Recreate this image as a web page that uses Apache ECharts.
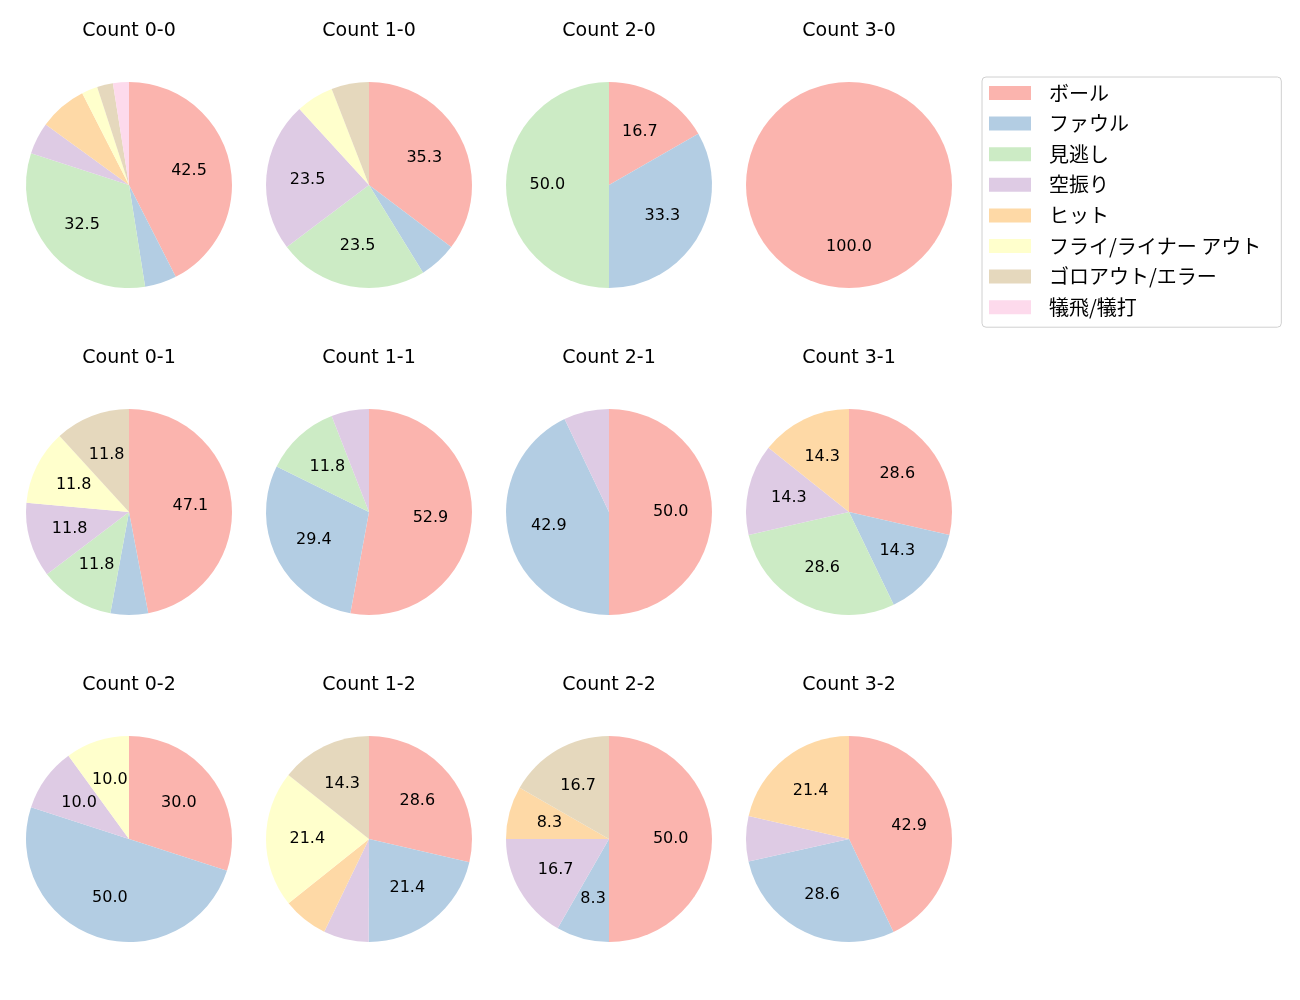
<!DOCTYPE html>
<html>
<head>
<meta charset="utf-8">
<script src="https://cdn.jsdelivr.net/npm/echarts@6/dist/echarts.min.js"></script>
<style>
html,body{margin:0;padding:0;background:#fff;}
#chart{width:1300px;height:1000px;}
</style>
</head>
<body>
<div id="chart"></div>
<script>
var categories = ['ボール', 'ファウル', '見逃し', '空振り', 'ヒット', 'フライ/ライナー アウト', 'ゴロアウト/エラー', '犠飛/犠打'];
var colors = ['#fbb4ae', '#b3cde3', '#ccebc5', '#decbe4', '#fed9a6', '#ffffcc', '#e5d8bd', '#fddaec'];

// percentages per count, in category order
var count00 = [42.5, 5.0, 32.5, 5.0, 7.5, 2.5, 2.5, 2.5];
var count10 = [35.3, 5.9, 23.5, 23.5, 0, 5.9, 5.9, 0];
var count20 = [16.7, 33.3, 50.0, 0, 0, 0, 0, 0];
var count30 = [100.0, 0, 0, 0, 0, 0, 0, 0];
var count01 = [47.1, 5.9, 11.8, 11.8, 0, 11.8, 11.8, 0];
var count11 = [52.9, 29.4, 11.8, 5.9, 0, 0, 0, 0];
var count21 = [50.0, 42.9, 0, 7.1, 0, 0, 0, 0];
var count31 = [28.6, 14.3, 28.6, 14.3, 14.3, 0, 0, 0];
var count02 = [30.0, 50.0, 0, 10.0, 0, 10.0, 0, 0];
var count12 = [28.6, 21.4, 0, 7.1, 7.1, 21.4, 14.3, 0];
var count22 = [50.0, 8.3, 0, 16.7, 8.3, 0, 16.7, 0];
var count32 = [42.9, 28.6, 0, 7.1, 21.4, 0, 0, 0];

var panels = [
  ['Count 0-0', count00], ['Count 1-0', count10], ['Count 2-0', count20], ['Count 3-0', count30],
  ['Count 0-1', count01], ['Count 1-1', count11], ['Count 2-1', count21], ['Count 3-1', count31],
  ['Count 0-2', count02], ['Count 1-2', count12], ['Count 2-2', count22], ['Count 3-2', count32]
];

var colX = [129, 369, 609, 849];
var rowY = [185, 512, 839];
var R = 103;
var latin = '"DejaVu Sans", "Noto Sans CJK JP", sans-serif';
var jp = '"Noto Sans CJK JP", "DejaVu Sans", sans-serif';

var titles = [];
var series = [];
panels.forEach(function (p, i) {
  var cx = colX[i % 4], cy = rowY[Math.floor(i / 4)];
  var data = [];
  p[1].forEach(function (v, k) {
    if (v > 0) data.push({name: categories[k], value: v, itemStyle: {color: colors[k]}});
  });
  titles.push({
    type: 'text', x: cx, y: cy - 154,
    style: {text: p[0], fill: '#000', font: '19px ' + latin, textAlign: 'center', textVerticalAlign: 'middle'}
  });
  series.push({
    type: 'pie', center: [cx, cy], radius: [0, R],
    startAngle: 90, clockwise: true, silent: true,
    label: {show: false}, labelLine: {show: false},
    itemStyle: {borderWidth: 0},
    emphasis: {disabled: true},
    data: data
  });
  // transparent overlay, only there to place the value labels nearer the centre
  series.push({
    type: 'pie', center: [cx, cy], radius: [R * 0.14, R],
    startAngle: 90, clockwise: true, silent: true,
    itemStyle: {color: 'rgba(0,0,0,0)', borderWidth: 0},
    label: {
      show: true, position: 'inside', fontSize: 16, color: '#000', fontFamily: latin,
      formatter: function (d) { return d.value >= 8 ? d.value.toFixed(1) : ''; }
    },
    labelLine: {show: false},
    emphasis: {disabled: true},
    data: data.map(function (d) { return {name: d.name, value: d.value}; })
  });
});

var chart = echarts.init(document.getElementById('chart'));
chart.setOption({
  animation: false,
  color: colors,
  graphic: titles,
  legend: {
    data: categories.map(function (c, k) { return {name: c, itemStyle: {color: colors[k]}}; }),
    orient: 'vertical', left: 982, top: 77,
    icon: 'rect', itemWidth: 42, itemHeight: 14, itemGap: 10.6,
    padding: [6, 20, 10, 7],
    backgroundColor: '#fff', borderColor: '#d0d0d0', borderWidth: 1, borderRadius: 4,
    selectedMode: false,
    textStyle: {fontSize: 20, lineHeight: 20, color: '#000', fontFamily: jp, padding: [0, 0, 0, 13]}
  },
  series: series
});
</script>
</body>
</html>
